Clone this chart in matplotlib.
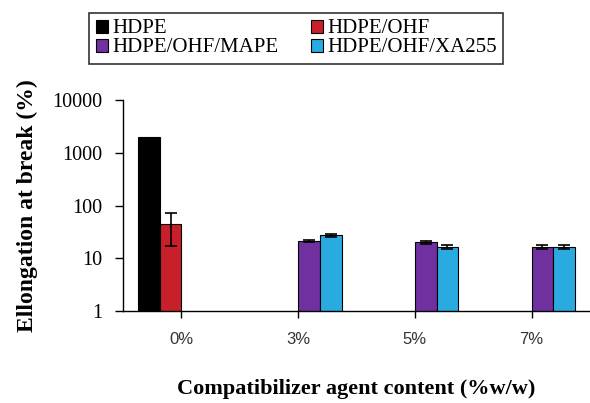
import numpy as np
import matplotlib.pyplot as plt

# elongation at break (%) per compatibilizer content
contents = ['0%', '3%', '5%', '7%']
series = ['HDPE', 'HDPE/OHF', 'HDPE/OHF/MAPE', 'HDPE/OHF/XA255']
colors = ['#000000', '#c8202a', '#7030a0', '#29abe2']

hdpe = [2000, 0, 0, 0]
hdpe_ohf = [45, 0, 0, 0]
hdpe_ohf_mape = [0, 21.5, 20, 16.5]
hdpe_ohf_xa255 = [0, 27.5, 16.5, 16.5]

hdpe_err = [0, 0, 0, 0]
hdpe_ohf_err = [28, 0, 0, 0]
hdpe_ohf_mape_err = [0, 1.2, 1.5, 1.3]
hdpe_ohf_xa255_err = [0, 2.0, 1.5, 1.5]

values = [hdpe, hdpe_ohf, hdpe_ohf_mape, hdpe_ohf_xa255]
errors = [hdpe_err, hdpe_ohf_err, hdpe_ohf_mape_err, hdpe_ohf_xa255_err]

fig = plt.figure(figsize=(5.9, 4.03), dpi=100)
ax = fig.add_axes([0.2085, 0.228, 0.7915, 0.524])

x = np.arange(len(contents))
w = 0.186
offsets = [-1.5 * w, -0.5 * w, 0.5 * w, 1.5 * w]
handles = []
for vals, errs, col, name, off in zip(values, errors, colors, series, offsets):
    vals = np.array(vals, dtype=float)
    errs = np.array(errs, dtype=float)
    mask = vals > 0
    b = ax.bar(x[mask] + off, vals[mask], w, color=col, edgecolor='black',
               linewidth=0.8, label=name, zorder=2)
    handles.append(b)
    emask = mask & (errs > 0)
    ax.errorbar(x[emask] + off, vals[emask], yerr=errs[emask], fmt='none',
                ecolor='black', elinewidth=1.2, capsize=4, capthick=1.2, zorder=3)

ax.set_yscale('log')
ax.set_ylim(1, 10000)
ax.set_xlim(-0.5, 3.5)
ax.set_yticks([1, 10, 100, 1000, 10000])
ax.set_yticklabels(['1', '10', '100', '1000', '10000'],
                   family='Liberation Serif', fontsize=14.5)
ax.minorticks_off()
ax.set_xticks(x)
ax.set_xticklabels(contents, family='Liberation Sans', fontsize=12, color='#333333')
ax.tick_params(axis='x', length=5, width=1, pad=10)
ax.tick_params(axis='y', length=6, width=1, pad=9)

for s in ['top', 'right']:
    ax.spines[s].set_visible(False)
for s in ['left', 'bottom']:
    ax.spines[s].set_linewidth(1.0)

ax.set_ylabel('Ellongation at break (%)', family='Liberation Serif',
              fontweight='bold', fontsize=17, labelpad=10)
ax.set_xlabel('Compatibilizer agent content (%w/w)', family='Liberation Serif',
              fontweight='bold', fontsize=16, labelpad=23)

# row-wise legend order with two columns
order = [0, 2, 1, 3]
leg = fig.legend([handles[i] for i in order], [series[i] for i in order],
                 loc='upper left', bbox_to_anchor=(0.134, 0.993), ncol=2,
                 prop={'family': 'Liberation Serif', 'size': 15},
                 frameon=True, fancybox=False, edgecolor='black',
                 handlelength=0.6, handleheight=0.6, handletextpad=0.2,
                 columnspacing=1.55, borderpad=0.3, labelspacing=0.0)
leg.get_frame().set_linewidth(1.2)

fig.savefig('out.png', dpi=100)
